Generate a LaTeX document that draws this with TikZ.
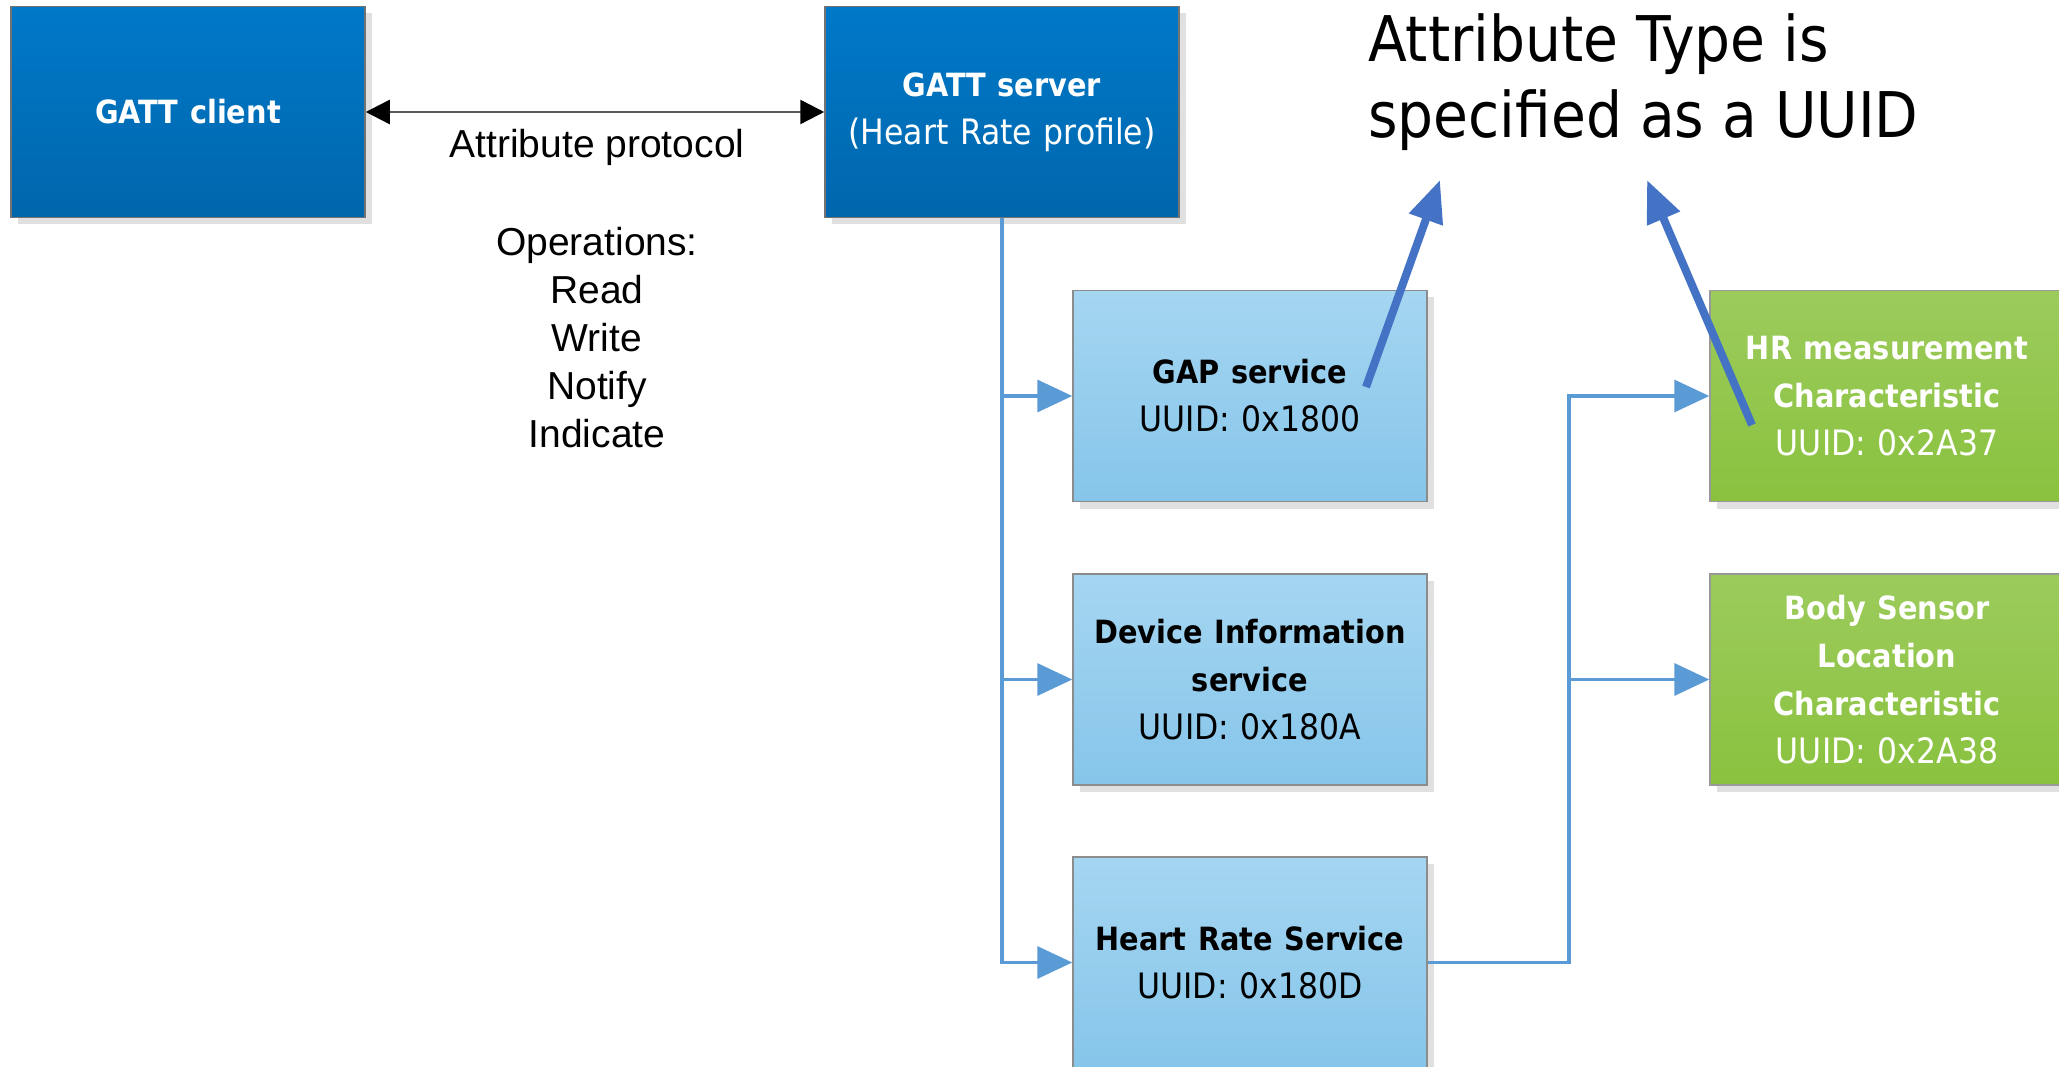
\documentclass[tikz,border=0pt]{standalone}
\usepackage{fontspec}
\setmainfont{DejaVu Sans Condensed}
\newfontfamily\arialfont{Liberation Sans}
\usetikzlibrary{arrows.meta,shadows}
\definecolor{conncol}{HTML}{5B9BD5}
\definecolor{annotcol}{HTML}{4472C4}
\definecolor{dtop}{HTML}{0079C9}
\definecolor{dbot}{HTML}{0066AC}
\definecolor{ltop}{HTML}{A5D6F1}
\definecolor{lbot}{HTML}{86C5EA}
\definecolor{gtop}{HTML}{9CCB5C}
\definecolor{gbot}{HTML}{8AC23F}
\newcommand\boxtitle[1]{{\fontsize{32}{48}\selectfont\bfseries #1}}
\begin{document}
\begin{tikzpicture}[x=1pt,y=-1pt,
  box/.style={rectangle, draw=black!45, line width=1.5pt,
    minimum width=354pt, minimum height=211pt, text width=345pt,
    align=center, inner sep=0pt,
    drop shadow={shadow xshift=7pt, shadow yshift=-7pt, fill=black!12, opacity=1, draw=none},
    font=\fontsize{35}{48}\selectfont},
  darkbox/.style={box, top color=dtop, bottom color=dbot, text=white, draw=black!55},
  lightbox/.style={box, top color=ltop, bottom color=lbot, text=black},
  greenbox/.style={box, top color=gtop, bottom color=gbot, text=white, draw=black!40},
  conn/.style={draw=conncol, line width=3.5pt, -{Triangle[length=35pt,width=32pt]}},
  annot/.style={draw=annotcol, line width=8pt, -{Triangle[length=42pt,width=34pt]}},
  proto/.style={draw=black!65, line width=2.5pt,
    {Triangle[length=24pt,width=24pt,color=black]}-{Triangle[length=24pt,width=24pt,color=black]}},
  plain/.style={font=\arialfont\fontsize{39}{48}\selectfont, align=center, inner sep=0pt}
]
\useasboundingbox (0,0) rectangle (2059,1067);
\fill[white] (0,0) rectangle (2059,1067);

\node[darkbox] (client) at (188,112) {\boxtitle{GATT client}};
\node[darkbox] (server) at (1002,112) {\boxtitle{GATT server}\\(Heart Rate profile)};

\node[lightbox] (gap) at (1250,396) {\boxtitle{GAP service}\\UUID: 0x1800};
\node[lightbox] (dev) at (1250,679.5) {\boxtitle{Device Information}\\\boxtitle{service}\\UUID: 0x180A};
\node[lightbox] (hrs) at (1250,962.5) {\boxtitle{Heart Rate Service}\\UUID: 0x180D};

\node[greenbox] (hrm) at (1887,396) {\boxtitle{HR measurement}\\\boxtitle{Characteristic}\\UUID: 0x2A37};
\node[greenbox] (body) at (1887,679.5) {\boxtitle{Body Sensor}\\\boxtitle{Location}\\\boxtitle{Characteristic}\\UUID: 0x2A38};

\draw[proto] (client.east) -- (server.west);
\node[plain] (proto) at (597,147) {Attribute protocol};
\node[plain] (ops) at (597,338) {Operations:\\Read\\Write\\Notify\\Indicate};

\draw[conn] (server.south) |- (gap.west);
\draw[conn] (server.south) |- (dev.west);
\draw[conn] (server.south) |- (hrs.west);

\coordinate (junc) at (1569,962.5);
\draw[conn] (hrs.east) -- (junc) |- (hrm.west);
\draw[conn] (junc) |- (body.west);

\node[anchor=north west, align=left, inner sep=0pt, font=\fontsize{63}{76}\selectfont] (note) at (1368,13)
  {Attribute Type is\\specified as a UUID};

\coordinate (a1s) at (1366,387);
\coordinate (a1e) at (1440,180);
\coordinate (a2s) at (1752,425);
\coordinate (a2e) at (1647,180);
\draw[annot] (a1s) -- (a1e);
\draw[annot] (a2s) -- (a2e);
\end{tikzpicture}
\end{document}
